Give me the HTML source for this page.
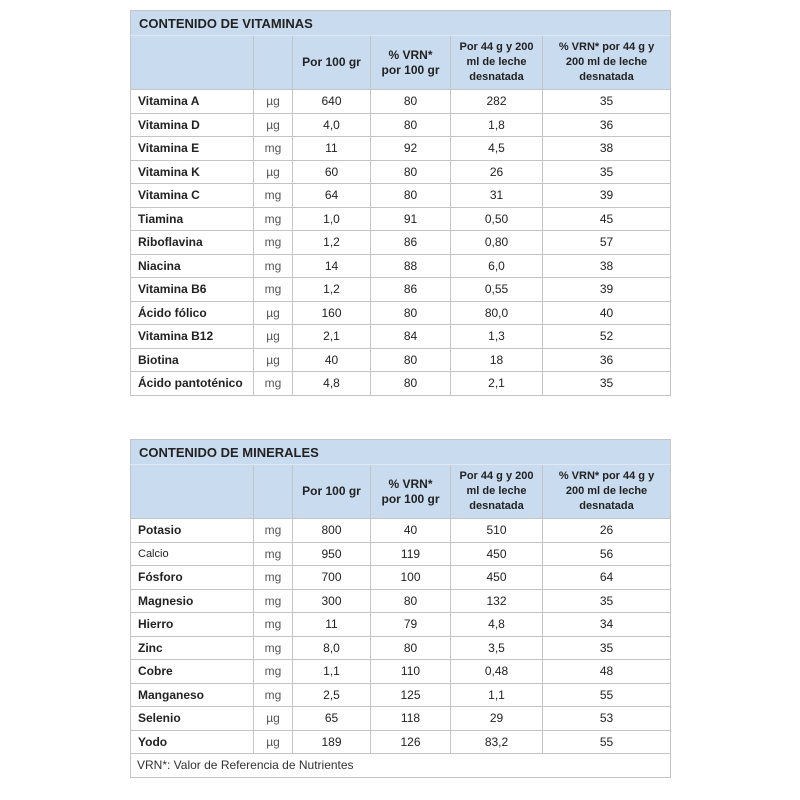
<!DOCTYPE html>
<html><head><meta charset="utf-8"><style>
body{margin:0;width:800px;height:800px;background:#fff;font-family:"Liberation Sans",sans-serif;color:#222;}
table{position:absolute;left:130px;border-collapse:collapse;table-layout:fixed;width:540px;font-size:12px;}
td{border:1px solid #c4c4c4;padding:0;text-align:center;overflow:hidden;white-space:nowrap;}
td.n{text-align:left;padding-left:7px;font-weight:bold;}
td.u{color:#555;}
tr.t td{background:#c9dbef;text-align:left;padding-left:8px;font-weight:bold;font-size:13px;height:24px;border-bottom:1px solid #dfe8f3;}
tr.h td{background:#c9dbef;font-weight:bold;font-size:11px;line-height:15px;white-space:normal;}
tr.d td{height:22.5px;}
td.f{text-align:left;padding-left:6px;font-size:12px;color:#333;}
table{border:1.5px solid #bbb;}
</style></head><body>
<table style="top:10px">
<colgroup><col style="width:123px"><col style="width:39px"><col style="width:78px"><col style="width:80px"><col style="width:92px"><col style="width:128px"></colgroup>
<tr class="t"><td colspan="6">CONTENIDO DE VITAMINAS</td></tr>
<tr class="h" style="height:54px"><td></td><td></td><td style="font-size:12px">Por 100 gr</td><td style="font-size:12px">% VRN*<br>por 100 gr</td><td>Por 44 g y 200<br>ml de leche<br>desnatada</td><td>% VRN* por 44 g y<br>200 ml de leche<br>desnatada</td></tr>
<tr class="d"><td class="n">Vitamina A</td><td class="u">µg</td><td>640</td><td>80</td><td>282</td><td>35</td></tr>
<tr class="d"><td class="n">Vitamina D</td><td class="u">µg</td><td>4,0</td><td>80</td><td>1,8</td><td>36</td></tr>
<tr class="d"><td class="n">Vitamina E</td><td class="u">mg</td><td>11</td><td>92</td><td>4,5</td><td>38</td></tr>
<tr class="d"><td class="n">Vitamina K</td><td class="u">µg</td><td>60</td><td>80</td><td>26</td><td>35</td></tr>
<tr class="d"><td class="n">Vitamina C</td><td class="u">mg</td><td>64</td><td>80</td><td>31</td><td>39</td></tr>
<tr class="d"><td class="n">Tiamina</td><td class="u">mg</td><td>1,0</td><td>91</td><td>0,50</td><td>45</td></tr>
<tr class="d"><td class="n">Riboflavina</td><td class="u">mg</td><td>1,2</td><td>86</td><td>0,80</td><td>57</td></tr>
<tr class="d"><td class="n">Niacina</td><td class="u">mg</td><td>14</td><td>88</td><td>6,0</td><td>38</td></tr>
<tr class="d"><td class="n">Vitamina B6</td><td class="u">mg</td><td>1,2</td><td>86</td><td>0,55</td><td>39</td></tr>
<tr class="d"><td class="n">Ácido fólico</td><td class="u">µg</td><td>160</td><td>80</td><td>80,0</td><td>40</td></tr>
<tr class="d"><td class="n">Vitamina B12</td><td class="u">µg</td><td>2,1</td><td>84</td><td>1,3</td><td>52</td></tr>
<tr class="d"><td class="n">Biotina</td><td class="u">µg</td><td>40</td><td>80</td><td>18</td><td>36</td></tr>
<tr class="d"><td class="n">Ácido pantoténico</td><td class="u">mg</td><td>4,8</td><td>80</td><td>2,1</td><td>35</td></tr>
</table>

<table style="top:439px">
<colgroup><col style="width:123px"><col style="width:39px"><col style="width:78px"><col style="width:80px"><col style="width:92px"><col style="width:128px"></colgroup>
<tr class="t"><td colspan="6">CONTENIDO DE MINERALES</td></tr>
<tr class="h" style="height:54px"><td></td><td></td><td style="font-size:12px">Por 100 gr</td><td style="font-size:12px">% VRN*<br>por 100 gr</td><td>Por 44 g y 200<br>ml de leche<br>desnatada</td><td>% VRN* por 44 g y<br>200 ml de leche<br>desnatada</td></tr>
<tr class="d"><td class="n">Potasio</td><td class="u">mg</td><td>800</td><td>40</td><td>510</td><td>26</td></tr>
<tr class="d"><td class="n" style="font-weight:normal;font-size:11px">Calcio</td><td class="u">mg</td><td>950</td><td>119</td><td>450</td><td>56</td></tr>
<tr class="d"><td class="n">Fósforo</td><td class="u">mg</td><td>700</td><td>100</td><td>450</td><td>64</td></tr>
<tr class="d"><td class="n">Magnesio</td><td class="u">mg</td><td>300</td><td>80</td><td>132</td><td>35</td></tr>
<tr class="d"><td class="n">Hierro</td><td class="u">mg</td><td>11</td><td>79</td><td>4,8</td><td>34</td></tr>
<tr class="d"><td class="n">Zinc</td><td class="u">mg</td><td>8,0</td><td>80</td><td>3,5</td><td>35</td></tr>
<tr class="d"><td class="n">Cobre</td><td class="u">mg</td><td>1,1</td><td>110</td><td>0,48</td><td>48</td></tr>
<tr class="d"><td class="n">Manganeso</td><td class="u">mg</td><td>2,5</td><td>125</td><td>1,1</td><td>55</td></tr>
<tr class="d"><td class="n">Selenio</td><td class="u">µg</td><td>65</td><td>118</td><td>29</td><td>53</td></tr>
<tr class="d"><td class="n">Yodo</td><td class="u">µg</td><td>189</td><td>126</td><td>83,2</td><td>55</td></tr>
<tr class="d"><td class="f" colspan="6">VRN*: Valor de Referencia de Nutrientes</td></tr>
</table>
</body></html>
